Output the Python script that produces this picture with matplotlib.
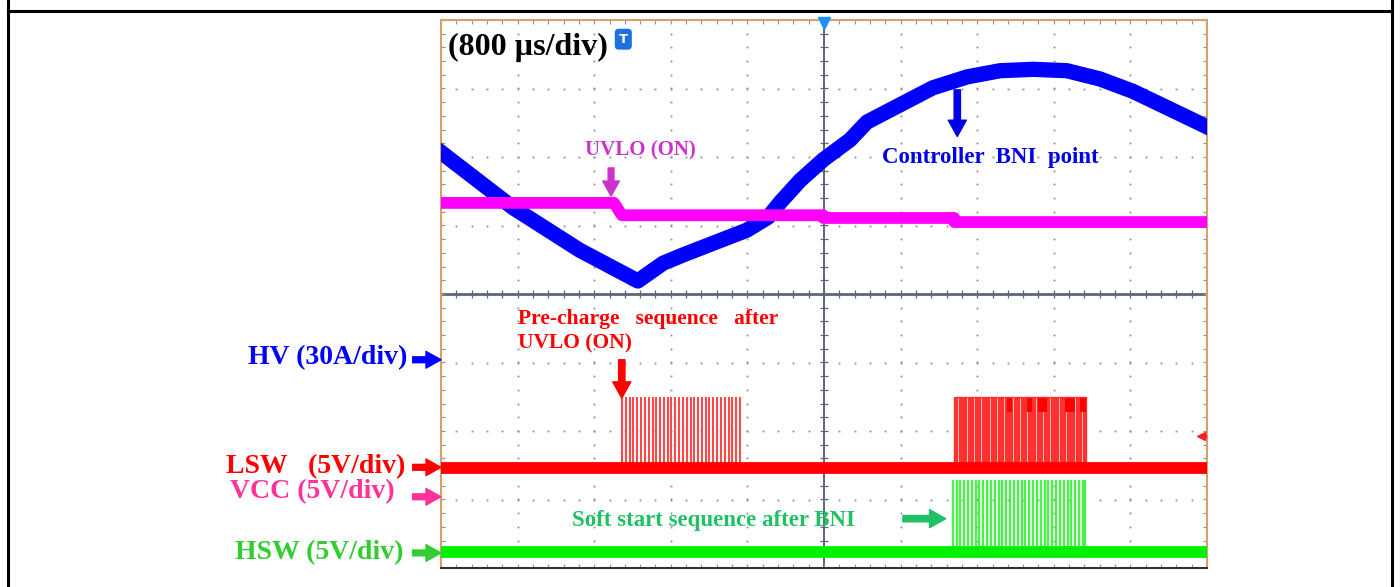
import matplotlib
matplotlib.use('Agg')
import matplotlib.pyplot as plt
from matplotlib.lines import Line2D
import numpy as np

plt.rcParams['font.family'] = ['Liberation Serif', 'DejaVu Serif']
plt.rcParams['font.weight'] = 'bold'

# Screen is 10 x 8 divisions, values in divisions
# HV current (blue)
hv_t = [0.00, 0.94, 1.81, 2.57, 2.90, 3.16, 3.55, 3.99, 4.27, 4.43, 4.69, 4.99, 5.34,
        5.56, 5.99, 6.42, 6.87, 7.30, 7.73, 8.17, 8.60, 9.03, 9.48, 10.0]
hv_v = [2.07, 1.26, 0.64, 0.19, 0.45, 0.57, 0.74, 0.93, 1.12, 1.34, 1.66, 1.96, 2.25,
        2.51, 2.76, 3.01, 3.17, 3.26, 3.28, 3.26, 3.14, 2.96, 2.72, 2.44]

# VCC (magenta)
vcc_t = [0.00, 2.26, 2.36, 4.99, 4.99, 6.70, 6.70, 10.0]
vcc_v = [1.33, 1.33, 1.15, 1.15, 1.11, 1.11, 1.05, 1.05]

# LSW (red)
lsw_base = -2.54
lsw_high = -1.50
lsw_pulses_1 = [2.363, 2.415, 2.467, 2.510, 2.563, 2.615, 2.659, 2.712, 2.764, 2.807,
                2.859, 2.911, 2.963, 3.007, 3.059, 3.111, 3.155, 3.208, 3.260, 3.303,
                3.355, 3.407, 3.460, 3.503, 3.555, 3.607, 3.651, 3.704, 3.756, 3.799,
                3.851, 3.903]
lsw_pulses_2 = [6.71, 6.74, 6.77, 6.80, 6.83, 6.86, 6.89, 6.92, 6.95, 6.98, 7.01, 7.04,
                7.07, 7.10, 7.13, 7.16, 7.19, 7.22, 7.25, 7.28, 7.31, 7.34, 7.37, 7.40,
                7.43, 7.46, 7.49, 7.52, 7.55, 7.58, 7.61, 7.64, 7.67, 7.70, 7.73, 7.76,
                7.79, 7.82, 7.85, 7.88, 7.91, 7.94, 7.97, 8.00, 8.03, 8.06, 8.09, 8.12,
                8.15, 8.18, 8.21, 8.24, 8.27, 8.30, 8.33, 8.36, 8.39, 8.42]
lsw_hi_blocks = [(7.39, 7.45), (7.65, 7.72), (7.80, 7.91), (8.14, 8.28), (8.34, 8.42)]

# HSW (green)
hsw_base = -3.77
hsw_high = -2.72
hsw_pulses = [6.68, 6.73, 6.78, 6.83, 6.88, 6.93, 6.98, 7.03, 7.08, 7.13, 7.18, 7.23,
              7.28, 7.33, 7.38, 7.43, 7.48, 7.53, 7.58, 7.63, 7.68, 7.73, 7.78, 7.83,
              7.88, 7.93, 7.98, 8.03, 8.08, 8.13, 8.18, 8.23, 8.28, 8.33, 8.38, 8.41]

# channel labels on the left
ch_labels = ['HV (30A/div)', 'LSW   (5V/div)', 'VCC (5V/div)', 'HSW (5V/div)']
ch_label_y = [-0.93, -2.52, -2.88, -3.77]
ch_arrow_y = [-0.96, -2.53, -2.96, -3.78]
ch_colors = ['#0000FF', '#FF0000', '#FF3399', '#33CC33']

W, H = 1400, 587
fig = plt.figure(figsize=(W / 100, H / 100), dpi=100, facecolor='white')

# outer frame of the table cell
fig.add_artist(Line2D([8 / W, 1392 / W], [1 - 11 / H, 1 - 11 / H], color='black', lw=2.2))
fig.add_artist(Line2D([8 / W, 8 / W], [0, 1], color='black', lw=2.2))
fig.add_artist(Line2D([1392 / W, 1392 / W], [0, 1], color='black', lw=2.2))

ax = fig.add_axes([441 / W, 1 - 568 / H, 766 / W, 548 / H])
ax.set_xlim(0, 10)
ax.set_ylim(-4, 4)
ax.set_xticks([])
ax.set_yticks([])
for s in ['left', 'top', 'right']:
    ax.spines[s].set_color('#D9A066')
    ax.spines[s].set_linewidth(1.5)
ax.spines['bottom'].set_color('#333333')
ax.spines['bottom'].set_linewidth(1.5)

# dotted scope graticule
grid_c = '#8A90A0'
fine_y = np.arange(-4, 4.01, 0.2)
fine_x = np.arange(0, 10.01, 0.2)
for xi in range(1, 10):
    if xi != 5:
        ax.plot([xi] * len(fine_y), fine_y, ls='none', marker='s', ms=1.3, mew=0, color=grid_c)
for yi in range(-3, 4):
    if yi != 0:
        ax.plot(fine_x, [yi] * len(fine_x), ls='none', marker='s', ms=1.3, mew=0, color=grid_c)
ax.axvline(5, color='#5C6677', lw=1.4, zorder=1)
ax.axhline(0, color='#5C6677', lw=2.0, zorder=1)
ax.plot(fine_x, [0] * len(fine_x), ls='none', marker='|', ms=6, mew=0.9, color='#5C6677')
ax.plot([5] * len(fine_y), fine_y, ls='none', marker='_', ms=6, mew=0.9, color='#5C6677')
ax.plot(fine_x, [3.97] * len(fine_x), ls='none', marker='|', ms=3, mew=0.8, color=grid_c)
ax.plot(fine_x, [-3.97] * len(fine_x), ls='none', marker='|', ms=3, mew=0.8, color=grid_c)
ax.plot([0.03] * len(fine_y), fine_y, ls='none', marker='_', ms=3, mew=0.8, color=grid_c)
ax.plot([9.97] * len(fine_y), fine_y, ls='none', marker='_', ms=3, mew=0.8, color=grid_c)

# traces
ax.plot(hv_t, hv_v, color='#0000FF', lw=11, solid_joinstyle='round', zorder=3)
ax.plot(vcc_t, vcc_v, color='#FF00FF', lw=8.5, solid_joinstyle='round',
        solid_capstyle='butt', zorder=4)

ax.vlines(lsw_pulses_1, lsw_base, lsw_high, color='#FF4848', lw=1.5, zorder=3)
ax.vlines(lsw_pulses_2, lsw_base, lsw_high, color='#FF3030', lw=1.7, zorder=3)
for a, b in lsw_hi_blocks:
    ax.fill_between([a, b], lsw_high - 0.22, lsw_high, color='#FF0000', lw=0, zorder=3)
ax.hlines(lsw_high, lsw_pulses_2[0], lsw_pulses_2[-1], color='#FF3030', lw=1.0, zorder=3)
ax.plot([0, 10], [lsw_base, lsw_base], color='#FF0000', lw=8.5, solid_capstyle='butt', zorder=4)

ax.vlines(hsw_pulses, hsw_base, hsw_high, color='#4CF04C', lw=1.7, zorder=3)
ax.plot([0, 10], [hsw_base, hsw_base], color='#00F000', lw=8.5, solid_capstyle='butt', zorder=4)

# trigger and ground markers
ax.plot(5, 3.95, marker='v', ms=8, color='#1E8FFF', clip_on=False, zorder=6)
ax.text(2.38, 3.72, 'T', color='white', fontsize=9.5, ha='center', va='center',
        family='DejaVu Sans', bbox=dict(boxstyle='round,pad=0.3', fc='#1E6FE0', ec='none'))
ax.plot(9.92, -2.07, marker='<', ms=6, color='#FF2020', zorder=6)
ax.plot([9.95, 10], [-2.07, -2.07], color='#FF2020', lw=2.5, zorder=6)

# annotations inside the screen
ax.text(0.09, 3.6, '(800 µs/div)', fontsize=23, color='black', ha='left', va='center')
ax.text(2.6, 2.10, 'UVLO (ON)', fontsize=15, color='#CC33CC', ha='center', va='center')
ax.text(7.17, 2.00, 'Controller  BNI  point', fontsize=16.5, color='#0000E6', ha='center', va='center')
ax.text(1.0, -0.37, 'Pre-charge   sequence   after', fontsize=15.5, color='#FF0000', ha='left', va='center')
ax.text(1.0, -0.72, 'UVLO (ON)', fontsize=15.5, color='#FF0000', ha='left', va='center')
ax.text(1.71, -3.31, 'Soft start sequence after BNI', fontsize=16.5, color='#20C065', ha='left', va='center')

arrow_v = 'simple,head_length=0.9,head_width=1.0,tail_width=0.35'
ax.annotate('', xy=(2.22, 1.43), xytext=(2.22, 1.84),
            arrowprops=dict(arrowstyle=arrow_v, color='#CC33CC', mutation_scale=12, shrinkA=0, shrinkB=0))
ax.annotate('', xy=(6.74, 2.30), xytext=(6.74, 2.98),
            arrowprops=dict(arrowstyle=arrow_v, color='#0000E6', mutation_scale=13, shrinkA=0, shrinkB=0))
ax.annotate('', xy=(2.36, -1.52), xytext=(2.36, -0.96),
            arrowprops=dict(arrowstyle=arrow_v, color='#FF0000', mutation_scale=13, shrinkA=0, shrinkB=0))
ax.annotate('', xy=(6.59, -3.28), xytext=(6.03, -3.28),
            arrowprops=dict(arrowstyle=arrow_v, color='#20C065', mutation_scale=13, shrinkA=0, shrinkB=0))

# channel labels with arrows pointing into the screen
ch_right = [-0.44, -0.47, -0.60, -0.49]
for lab, ly, ay, c, xr in zip(ch_labels, ch_label_y, ch_arrow_y, ch_colors, ch_right):
    ax.text(xr, ly, lab, fontsize=20, color=c, ha='right', va='center')
    ax.annotate('', xy=(0, ay), xytext=(-0.37, ay), annotation_clip=False,
                arrowprops=dict(arrowstyle=arrow_v, color=c, mutation_scale=12, shrinkA=0, shrinkB=0))

fig.savefig('out.png', dpi=100, facecolor='white')
